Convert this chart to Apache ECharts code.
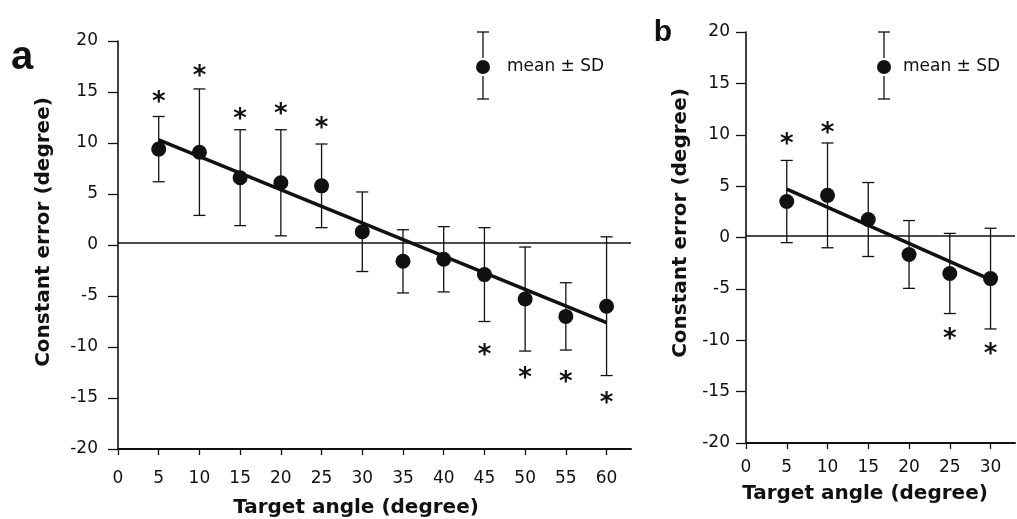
<!DOCTYPE html>
<html>
<head>
<meta charset="utf-8">
<script src="https://cdn.jsdelivr.net/npm/echarts@6/dist/echarts.min.js"></script>
<style>
  html, body { margin: 0; padding: 0; background: #fff; }
  #chart { width: 1017px; height: 519px; }
</style>
</head>
<body>
<div id="chart"></div>
<script>
// ---------- data ----------
const anglesA = [5, 10, 15, 20, 25, 30, 35, 40, 45, 50, 55, 60];
const meanA   = [9.4, 9.1, 6.6, 6.1, 5.8, 1.3, -1.6, -1.4, -2.9, -5.3, -7.0, -6.0];
const sdA     = [3.2, 6.2, 4.7, 5.2, 4.1, 3.9, 3.1, 3.2, 4.6, 5.1, 3.3, 6.8];
const starsA  = [[5, 14.6], [10, 17.1], [15, 12.9], [20, 13.4], [25, 12.0],
                 [45, -10.2], [50, -12.5], [55, -12.9], [60, -14.9]];
const fitA    = [[5, 10.3], [60, -7.6]];

const anglesB = [5, 10, 15, 20, 25, 30];
const meanB   = [3.5, 4.1, 1.75, -1.65, -3.5, -4.0];
const sdB     = [4.0, 5.1, 3.6, 3.3, 3.9, 4.9];
const starsB  = [[5, 9.7], [10, 10.7], [25, -9.35], [30, -10.8]];
const fitB    = [[5, 4.7], [30, -4.1]];

const xTicksA = [0, 5, 10, 15, 20, 25, 30, 35, 40, 45, 50, 55, 60];
const xTicksB = [0, 5, 10, 15, 20, 25, 30];
const yTicks  = [-20, -15, -10, -5, 0, 5, 10, 15, 20];
const zeroLevel = 0.2;

const xTitle = 'Target angle (degree)';
const yTitle = 'Constant error (degree)';
const legendText = 'mean \u00b1 SD';

// ---------- styling ----------
const INK = '#111';
const TICK_FONT = '"DejaVu Sans", "Liberation Sans", Arial, sans-serif';

const chart = echarts.init(document.getElementById('chart'), null, { renderer: 'canvas' });

function errRender(params, api) {
  const x = api.value(0), m = api.value(1), s = api.value(2);
  const top = api.coord([x, m + s]);
  const bot = api.coord([x, m - s]);
  const w = 6;
  const st = { stroke: INK, lineWidth: 1.3 };
  return {
    type: 'group',
    children: [
      { type: 'line', shape: { x1: top[0], y1: top[1], x2: bot[0], y2: bot[1] }, style: st },
      { type: 'line', shape: { x1: top[0] - w, y1: top[1], x2: top[0] + w, y2: top[1] }, style: st },
      { type: 'line', shape: { x1: bot[0] - w, y1: bot[1], x2: bot[0] + w, y2: bot[1] }, style: st }
    ]
  };
}

function starRender(params, api) {
  const p = api.coord([api.value(0), api.value(1)]);
  return {
    type: 'text',
    x: p[0], y: p[1] + 7,
    style: {
      text: '*', fill: INK,
      font: 'bold 26px "DejaVu Sans", sans-serif',
      align: 'center', verticalAlign: 'middle',
      textAlign: 'center', textVerticalAlign: 'middle'
    }
  };
}

function xAxisCfg(gi, max, ticks, margin) {
  return {
    type: 'value', gridIndex: gi, min: 0, max: max,
    axisLine: { show: true, onZero: false, lineStyle: { color: INK, width: 2 } },
    axisTick: { show: true, inside: false, length: 6, customValues: ticks, lineStyle: { color: INK, width: 1.3 } },
    axisLabel: { customValues: ticks, margin: margin, fontSize: 17, fontFamily: TICK_FONT, color: INK },
    splitLine: { show: false }
  };
}
function yAxisCfg(gi, margin) {
  return {
    type: 'value', gridIndex: gi, min: -20, max: 20, interval: 5,
    axisLine: { show: true, onZero: false, lineStyle: { color: INK, width: 1.6 } },
    axisTick: { show: true, inside: false, length: 10, customValues: yTicks, lineStyle: { color: INK, width: 1.3 } },
    axisLabel: { customValues: yTicks, margin: margin, fontSize: 17, fontFamily: TICK_FONT, color: INK },
    splitLine: { show: false }
  };
}

function legendGraphic(cx, tx) {
  const st = { stroke: INK, lineWidth: 1.3 };
  return [
    { type: 'line', shape: { x1: cx, y1: 32, x2: cx, y2: 58 }, style: st },
    { type: 'line', shape: { x1: cx, y1: 76, x2: cx, y2: 99 }, style: st },
    { type: 'line', shape: { x1: cx - 6, y1: 32, x2: cx + 6, y2: 32 }, style: st },
    { type: 'line', shape: { x1: cx - 6, y1: 99, x2: cx + 6, y2: 99 }, style: st },
    { type: 'circle', shape: { cx: cx, cy: 67, r: 7 }, style: { fill: INK } },
    { type: 'text', x: tx, y: 67, style: { text: legendText, fill: INK,
      font: '17px "DejaVu Sans", sans-serif', align: 'left', verticalAlign: 'middle',
      textAlign: 'left', textVerticalAlign: 'middle' } }
  ];
}
function textG(x, y, text, font, rot) {
  return { type: 'text', x: x, y: y, rotation: rot || 0,
    style: { text: text, fill: INK, font: font, align: 'center', verticalAlign: 'middle',
      textAlign: 'center', textVerticalAlign: 'middle' } };
}

const TITLE_FONT = 'bold 20px "DejaVu Sans", sans-serif';

const option = {
  backgroundColor: '#fff',
  animation: false,
  grid: [
    { left: 118, top: 41, width: 513, height: 408 },
    { left: 746, top: 32, width: 269, height: 411 }
  ],
  xAxis: [xAxisCfg(0, 63, xTicksA, 21), xAxisCfg(1, 33, xTicksB, 16)],
  yAxis: [yAxisCfg(0, 20), yAxisCfg(1, 16)],
  graphic: [].concat(
    legendGraphic(483, 507),
    legendGraphic(884, 903),
    [
      textG(22, 58, 'a', 'bold 40px "Liberation Sans", Arial, sans-serif'),
      textG(663, 33, 'b', 'bold 30px "Liberation Sans", Arial, sans-serif'),
      textG(44, 232, yTitle, TITLE_FONT, Math.PI / 2),
      textG(681, 223, yTitle, TITLE_FONT, Math.PI / 2),
      textG(356, 508, xTitle, TITLE_FONT),
      textG(865, 494, xTitle, TITLE_FONT)
    ]
  ),
  series: [
    // panel a
    { type: 'custom', xAxisIndex: 0, yAxisIndex: 0, renderItem: errRender,
      data: anglesA.map((a, i) => [a, meanA[i], sdA[i]]), z: 2, silent: true,
      markLine: { silent: true, symbol: 'none', label: { show: false },
        lineStyle: { color: INK, width: 1.5, type: 'solid' }, data: [{ yAxis: zeroLevel }] } },
    { type: 'scatter', xAxisIndex: 0, yAxisIndex: 0, symbol: 'circle', symbolSize: 15,
      itemStyle: { color: INK, opacity: 1 }, data: anglesA.map((a, i) => [a, meanA[i]]), z: 3 },
    { type: 'line', xAxisIndex: 0, yAxisIndex: 0, data: fitA, showSymbol: false,
      lineStyle: { color: INK, width: 3.5 }, z: 4 },
    { type: 'custom', xAxisIndex: 0, yAxisIndex: 0, renderItem: starRender, data: starsA, z: 5 },
    // panel b
    { type: 'custom', xAxisIndex: 1, yAxisIndex: 1, renderItem: errRender,
      data: anglesB.map((a, i) => [a, meanB[i], sdB[i]]), z: 2, silent: true,
      markLine: { silent: true, symbol: 'none', label: { show: false },
        lineStyle: { color: INK, width: 1.5, type: 'solid' }, data: [{ yAxis: zeroLevel }] } },
    { type: 'scatter', xAxisIndex: 1, yAxisIndex: 1, symbol: 'circle', symbolSize: 15,
      itemStyle: { color: INK, opacity: 1 }, data: anglesB.map((a, i) => [a, meanB[i]]), z: 3 },
    { type: 'line', xAxisIndex: 1, yAxisIndex: 1, data: fitB, showSymbol: false,
      lineStyle: { color: INK, width: 3.5 }, z: 4 },
    { type: 'custom', xAxisIndex: 1, yAxisIndex: 1, renderItem: starRender, data: starsB, z: 5 }
  ]
};
chart.setOption(option);
</script>
</body>
</html>
